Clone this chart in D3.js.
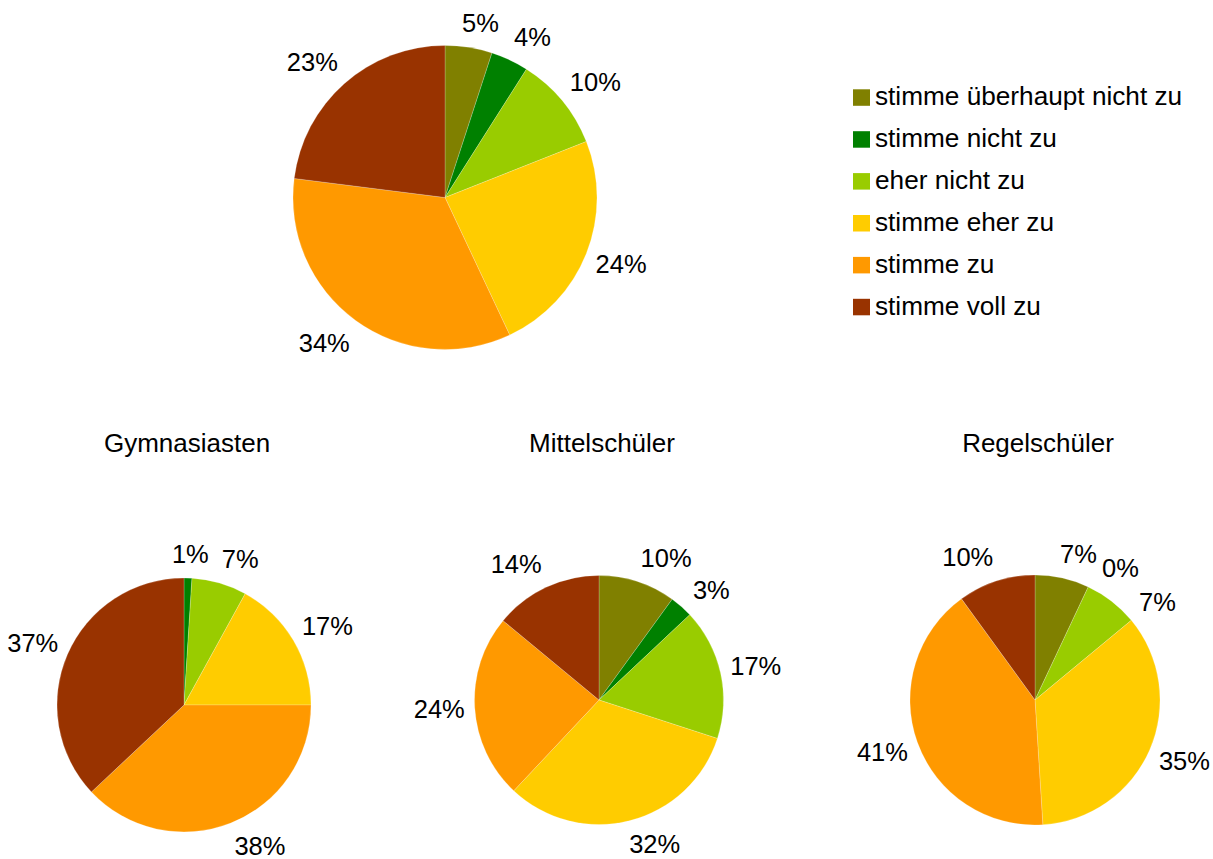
<!DOCTYPE html>
<html>
<head>
<meta charset="utf-8">
<script src="https://cdn.jsdelivr.net/npm/d3@7"></script>
<style>
  body { margin: 0; background: #fff; }
  svg { display: block; }
  text { font-family: "Liberation Sans", Arial, sans-serif; fill: #000; }
</style>
</head>
<body>
<svg id="chart" width="1213" height="859"></svg>
<script>
// Answer categories (legend order = slice order, clockwise from 12 o'clock)
const categories = [
  "stimme überhaupt nicht zu",
  "stimme nicht zu",
  "eher nicht zu",
  "stimme eher zu",
  "stimme zu",
  "stimme voll zu"
];
const sliceColors = ["#808000", "#008000", "#99cc00", "#ffcc00", "#ff9900", "#993300"];

// Shares in percent per group (null = category not present)
const allStudents    = [5, 4, 10, 24, 34, 23];
const gymnasiasten   = [null, 1, 7, 17, 38, 37];
const mittelschueler = [10, 3, 17, 32, 24, 14];
const regelschueler  = [7, 0, 7, 35, 41, 10];

const groupTitles = ["Gymnasiasten", "Mittelschüler", "Regelschüler"];

const pies = [
  { values: allStudents,    cx: 445,  cy: 197.5, r: 152,   title: null },
  { values: gymnasiasten,   cx: 184,  cy: 705,   r: 127,   title: groupTitles[0] },
  { values: mittelschueler, cx: 599,  cy: 700,   r: 124.5, title: groupTitles[1] },
  { values: regelschueler,  cx: 1035, cy: 700,   r: 125,   title: groupTitles[2] }
];

const svg = d3.select("#chart");
const color = d3.scaleOrdinal().domain(categories).range(sliceColors);

const labelSize = 25.5;
const ascent = 0.905, descent = 0.212;
const labelGap = 4;
const clamp = v => Math.max(-1, Math.min(1, v));

function overlaps(a, b) {
  return a.x < b.x + b.w + labelGap && b.x < a.x + a.w + labelGap &&
         a.y < b.y + b.h + labelGap && b.y < a.y + a.h + labelGap;
}

const pieGen = d3.pie().sort(null).value(d => d.value == null ? 0 : d.value);

pies.forEach(p => {
  const items = p.values.map((v, i) => ({ value: v, category: categories[i] }));
  const arcs = pieGen(items);
  const arcGen = d3.arc().innerRadius(0).outerRadius(p.r);

  const g = svg.append("g").attr("transform", `translate(${p.cx},${p.cy})`);

  g.selectAll("path.slice")
    .data(arcs.filter(d => d.data.value > 0))
    .join("path")
    .attr("class", "slice")
    .attr("d", arcGen)
    .attr("fill", d => color(d.data.category))
    .attr("stroke", "rgba(255,255,255,0.35)")
    .attr("stroke-width", 0.6);

  // Percentage labels outside the rim; the text box leans away from the pie
  const H = (ascent + descent) * labelSize;
  const R = p.r + 10;
  const boxAt = (a, w) => {
    const ax = R * Math.sin(a), ay = -R * Math.cos(a);
    const hx = clamp(Math.sin(a) * 3.5);
    const vy = clamp(-Math.cos(a) * 1.3);
    return { x: ax + hx * w / 2 - w / 2, y: ay + vy * H / 2 - H / 2, w: w, h: H };
  };

  const placed = [];
  arcs.filter(d => d.data.value != null).forEach(d => {
    let a = (d.startAngle + d.endAngle) / 2;
    const t = g.append("text")
      .attr("font-size", labelSize)
      .text(d3.format(".0%")(d.data.value / 100));
    const w = t.node().getComputedTextLength();

    let box = boxAt(a, w);
    for (let i = 0; i < 80 && placed.some(b => overlaps(b, box)); i++) {
      a += 0.01;               // slide clockwise until free
      box = boxAt(a, w);
    }
    placed.push(box);
    t.attr("x", box.x).attr("y", box.y + ascent * labelSize);
  });

  if (p.title) {
    svg.append("text")
      .attr("x", p.cx + 3)
      .attr("y", 452)
      .attr("text-anchor", "middle")
      .attr("font-size", 26)
      .text(p.title);
  }
});

// Legend
const legend = svg.append("g").attr("transform", "translate(853,89.3)");
const rowStep = 41.9;
const rows = legend.selectAll("g.row")
  .data(categories)
  .join("g")
  .attr("class", "row")
  .attr("transform", (d, i) => `translate(0,${i * rowStep})`);
rows.append("rect")
  .attr("width", 17)
  .attr("height", 16.5)
  .attr("fill", d => color(d));
rows.append("text")
  .attr("x", 22)
  .attr("y", 15.7)
  .attr("font-size", 26.2)
  .text(d => d);
</script>
</body>
</html>
